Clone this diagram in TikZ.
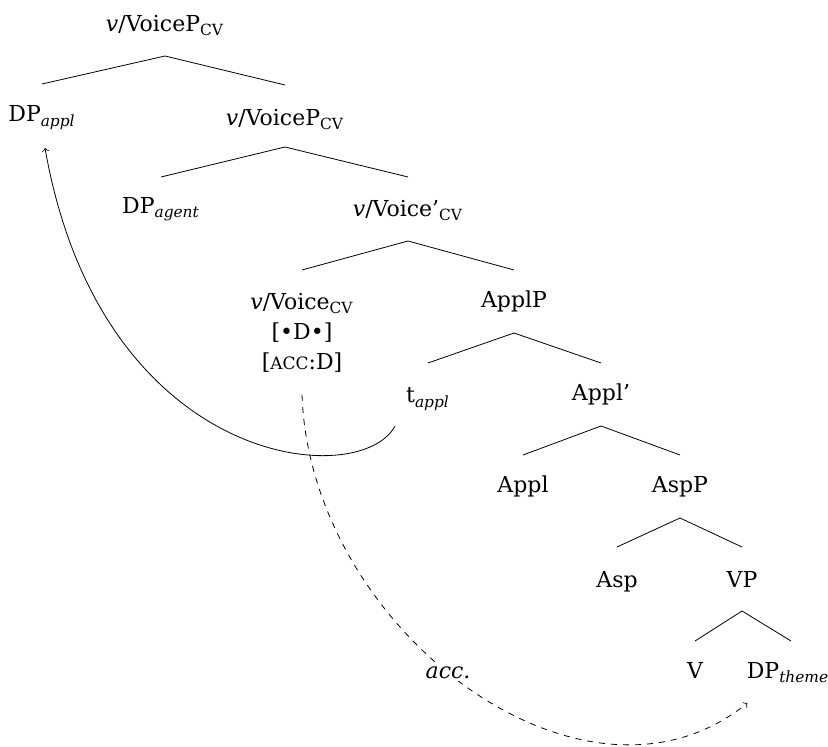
\documentclass[tikz,border=0pt]{standalone}
\usepackage{fontspec}
\setmainfont{DejaVu Serif}
\newcommand{\fakesc}[1]{{\fontsize{8.5}{9}\selectfont #1}}

\begin{document}
\begin{tikzpicture}[
    x=0.5pt, y=0.5pt,
    font=\fontsize{11}{15}\selectfont,
    cat/.style={inner sep=0pt, anchor=base},
    bar/.style={line width=0.4pt}
]
\useasboundingbox (0,0) rectangle (828,-747);

\node[cat] (voice-pp) at (165,-32) {\textit{v}/VoiceP\textsubscript{CV}};
\node[cat] (dp-appl) at (42,-122) {DP\textsubscript{\textit{appl}}};
\node[cat] (voice-p) at (285,-126) {\textit{v}/VoiceP\textsubscript{CV}};
\node[cat] (dp-agent) at (161,-214) {DP\textsubscript{\textit{agent}}};
\node[cat] (voice-bar) at (408,-217) {\textit{v}/Voice'\textsubscript{CV}};
\node[cat, anchor=north, align=center] (voice) at (302,-293) {\textit{v}/Voice\textsubscript{CV}\\{}[•D•]\\{}[\fakesc{ACC}:D]};
\node[cat] (appl-p) at (514,-308) {ApplP};
\node[cat] (t-appl) at (428,-403) {t\textsubscript{\textit{appl}}};
\node[cat] (appl-bar) at (601,-401) {Appl'};
\node[cat] (appl) at (523,-493) {Appl};
\node[cat] (asp-p) at (680,-493) {AspP};
\node[cat] (asp) at (617,-587) {Asp};
\node[cat] (vp) at (742,-587) {VP};
\node[cat] (v) at (695,-678) {V};
\node[cat] (dp-theme) at (788,-678) {DP\textsubscript{\textit{theme}}};

\draw[bar] ([yshift=-12pt]voice-pp.base) -- ([yshift=19pt]dp-appl.base);
\draw[bar] ([yshift=-12pt]voice-pp.base) -- ([yshift=20.5pt]voice-p.base);
\draw[bar] ([yshift=-10.5pt]voice-p.base) -- ([yshift=18.5pt]dp-agent.base);
\draw[bar] ([yshift=-10.5pt]voice-p.base) -- ([yshift=20pt]voice-bar.base);
\draw[bar] ([yshift=-12pt]voice-bar.base) -- ([yshift=11.5pt]voice.north);
\draw[bar] ([yshift=-12pt]voice-bar.base) -- ([yshift=19pt]appl-p.base);
\draw[bar] ([yshift=-12.5pt]appl-p.base) -- ([yshift=20pt]t-appl.base);
\draw[bar] ([yshift=-12.5pt]appl-p.base) -- ([yshift=19pt]appl-bar.base);
\draw[bar] ([yshift=-12.5pt]appl-bar.base) -- ([yshift=19pt]appl.base);
\draw[bar] ([yshift=-12.5pt]appl-bar.base) -- ([yshift=19pt]asp-p.base);
\draw[bar] ([yshift=-12.5pt]asp-p.base) -- ([yshift=20pt]asp.base);
\draw[bar] ([yshift=-12.5pt]asp-p.base) -- ([yshift=20pt]vp.base);
\draw[bar] ([yshift=-12pt]vp.base) -- ([yshift=18.5pt]v.base);
\draw[bar] ([yshift=-12pt]vp.base) -- ([xshift=1.5pt,yshift=18.5pt]dp-theme.base);

% movement of the applied argument
\draw[->] ([shift={(-16.5pt,-11.5pt)}]t-appl.base) to[out=242, in=280, out distance=37pt, in distance=163pt] ([shift={(1.5pt,-13pt)}]dp-appl.base);

% case assignment
\draw[->, dashed] ([yshift=-11pt]voice.south) to[out=272, in=219, out distance=118pt, in distance=105pt]
    node[pos=0.465, fill=white, inner sep=1pt] (acc) {\textit{acc.}} ([shift={(0.5pt,-12.5pt)}]dp-theme.base west);

\end{tikzpicture}
\end{document}
